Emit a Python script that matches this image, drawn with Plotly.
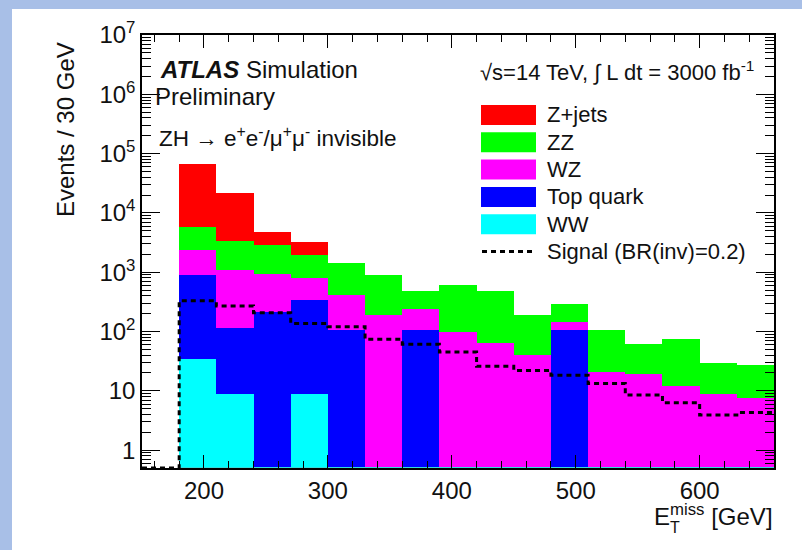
import plotly.graph_objects as go

# Missing-ET spectrum, 30 GeV bins from 180 to 660 GeV
bin_edges = [180, 210, 240, 270, 300, 330, 360, 390, 420, 450, 480, 510, 540, 570, 600, 630, 660]

# Expected background yields per bin (stacked bottom -> top: WW, Top, WZ, ZZ, Z+jets)
ww = [35, 9, 0, 9, 0, 0, 0, 0, 0, 0, 0, 0, 0, 0, 0, 0]
top = [880, 106, 215, 329, 108, 0, 108, 0, 0, 0, 108, 0, 0, 0, 0, 0]
wz = [1480, 995, 703, 467, 303, 189, 131, 99, 63, 40, 38, 21, 19.6, 12.2, 9.0, 7.7]
zz = [3400, 2290, 1980, 1135, 1030, 694, 247, 514, 417, 149, 144, 87, 43, 64, 21, 20]
zjets = [62000, 17900, 1800, 1320, 0, 0, 0, 0, 0, 0, 0, 0, 0, 0, 0, 0]

# Signal expectation for BR(inv)=0.2
signal = [330, 270, 207, 137, 120, 74, 61, 45, 26, 22, 18.4, 13.3, 8.5, 6.3, 3.9, 4.3]

y_ticks = [1, 10, 100, 1e3, 1e4, 1e5, 1e6, 1e7]
y_ticktext = ["1", "10", "10<sup>2</sup>", "10<sup>3</sup>", "10<sup>4</sup>",
              "10<sup>5</sup>", "10<sup>6</sup>", "10<sup>7</sup>"]

x_range = [150, 660]
y_floor = 0.5

processes = [
    ("WW", ww, "#00ffff"),
    ("Top quark", top, "#0000ff"),
    ("WZ", wz, "#ff00ff"),
    ("ZZ", zz, "#00ff00"),
    ("Z+jets", zjets, "#ff0000"),
]

centers = [(a + b) / 2 for a, b in zip(bin_edges[:-1], bin_edges[1:])]
widths = [b - a for a, b in zip(bin_edges[:-1], bin_edges[1:])]

FONT = "Liberation Sans, Arial, Helvetica, sans-serif"
INK = "#111"
SIG_DASH = "5px,4px"
W, H = 802, 550
ML, MR, MT, MB = 142, 28, 35, 82
PW, PH = W - ML - MR, H - MT - MB


def px_x(px):
    return (px - ML) / PW


def px_y(py):
    return (H - MB - py) / PH


fig = go.Figure()

for name, vals, color in processes:
    fig.add_trace(go.Bar(
        x=centers, y=vals, width=widths, name=name,
        marker=dict(color=color, line=dict(width=0)),
        showlegend=False, hoverinfo="skip",
    ))

# Empty WW histogram outline running along the floor of the plot
fig.add_trace(go.Scatter(
    x=[bin_edges[0], bin_edges[-1]], y=[y_floor, y_floor], mode="lines",
    line=dict(color="#33dddd", width=2), showlegend=False, hoverinfo="skip",
    cliponaxis=False,
))

# Signal as a step histogram; the empty region below the first bin sits on the axis floor
sig_x = [x_range[0]] + bin_edges
sig_y = [y_floor] + signal + [signal[-1]]
fig.add_trace(go.Scatter(
    x=sig_x, y=sig_y, mode="lines", line_shape="hv",
    line=dict(color="black", width=3, dash=SIG_DASH),
    showlegend=False, hoverinfo="skip", cliponaxis=False,
))

shapes = [
    # white page area over the blue slide background
    dict(type="rect", xref="paper", yref="paper", layer="below",
         x0=px_x(12), x1=px_x(W + 5), y0=px_y(H + 5), y1=px_y(9),
         fillcolor="white", line=dict(width=0)),
]
annotations = []

# Legend drawn by hand: colored boxes + labels
row_y = [115, 142.3, 169.6, 196.9, 224.2]
legend_order = list(reversed(processes))
for (name, _, color), ry in zip(legend_order, row_y):
    shapes.append(dict(type="rect", xref="paper", yref="paper",
                       x0=px_x(481), x1=px_x(536), y0=px_y(ry + 10), y1=px_y(ry - 10),
                       fillcolor=color, line=dict(width=0)))
    annotations.append(dict(text=name, x=px_x(546), y=px_y(ry), xref="paper", yref="paper",
                            xanchor="left", yanchor="middle", showarrow=False, borderpad=0,
                            font=dict(family=FONT, size=22, color=INK)))
sig_row = 251.5
shapes.append(dict(type="line", xref="paper", yref="paper",
                   x0=px_x(482), x1=px_x(536), y0=px_y(sig_row), y1=px_y(sig_row),
                   line=dict(color="black", width=3, dash=SIG_DASH)))
annotations.append(dict(text="Signal (BR(inv)=0.2)", x=px_x(546), y=px_y(sig_row),
                        xref="paper", yref="paper", xanchor="left", yanchor="middle",
                        showarrow=False, borderpad=0,
                        font=dict(family=FONT, size=22, color=INK)))

annotations += [
    dict(text="<b><i>ATLAS</i></b> Simulation", x=px_x(159), y=px_y(69),
         xref="paper", yref="paper", xanchor="left", yanchor="middle",
         showarrow=False, borderpad=0, font=dict(family=FONT, size=24, color=INK)),
    dict(text="Preliminary", x=px_x(154), y=px_y(96),
         xref="paper", yref="paper", xanchor="left", yanchor="middle",
         showarrow=False, borderpad=0, font=dict(family=FONT, size=24, color=INK)),
    dict(text="ZH → e<sup>+</sup>e<sup>-</sup>/μ<sup>+</sup>μ<sup>-</sup> invisible",
         x=px_x(158), y=px_y(136.5), xref="paper", yref="paper",
         xanchor="left", yanchor="middle", showarrow=False, borderpad=0,
         font=dict(family=FONT, size=22.5, color=INK)),
    dict(text="√s=14 TeV, ∫ L dt = 3000 fb<sup>-1</sup>", x=px_x(755), y=px_y(71),
         xref="paper", yref="paper", xanchor="right", yanchor="middle",
         showarrow=False, borderpad=0, font=dict(family=FONT, size=22, color=INK)),
    dict(text="Events / 30 GeV", x=px_x(65), y=px_y(130), textangle=-90,
         xref="paper", yref="paper", xanchor="center", yanchor="middle",
         showarrow=False, borderpad=0, font=dict(family=FONT, size=24, color=INK)),
    dict(text="E<sup>miss</sup> [GeV]", x=px_x(774), y=px_y(515),
         xref="paper", yref="paper", xanchor="right", yanchor="middle",
         showarrow=False, borderpad=0, font=dict(family=FONT, size=24, color=INK)),
    dict(text="T", x=px_x(675), y=px_y(527),
         xref="paper", yref="paper", xanchor="center", yanchor="middle",
         showarrow=False, borderpad=0, font=dict(family=FONT, size=16, color=INK)),
]

fig.update_layout(
    width=W, height=H,
    margin=dict(l=ML, r=MR, t=MT, b=MB, pad=0),
    paper_bgcolor="#a8bfe7", plot_bgcolor="white",
    barmode="stack", bargap=0,
    shapes=shapes, annotations=annotations,
    font=dict(family=FONT, color=INK),
    xaxis=dict(
        range=x_range, tick0=0, dtick=100, ticks="inside", ticklen=13, tickwidth=1.2,
        tickcolor="black", showline=True, linecolor="black", linewidth=1.5,
        mirror="allticks", showgrid=False, zeroline=False,
        tickfont=dict(family=FONT, size=24, color=INK),
        minor=dict(dtick=20, ticks="inside", ticklen=7, tickwidth=1, tickcolor="black",
                   showgrid=False),
    ),
    yaxis=dict(
        type="log", range=[-0.301, 7], tickvals=y_ticks, ticktext=y_ticktext,
        ticks="inside", ticklen=18, tickwidth=1.2, tickcolor="black",
        showline=True, linecolor="black", linewidth=1.5, mirror="allticks",
        showgrid=False, zeroline=False,
        tickfont=dict(family=FONT, size=24, color=INK),
        minor=dict(dtick="D1", ticks="inside", ticklen=9, tickwidth=1, tickcolor="black",
                   showgrid=False),
    ),
)

fig.write_html("out.html")
